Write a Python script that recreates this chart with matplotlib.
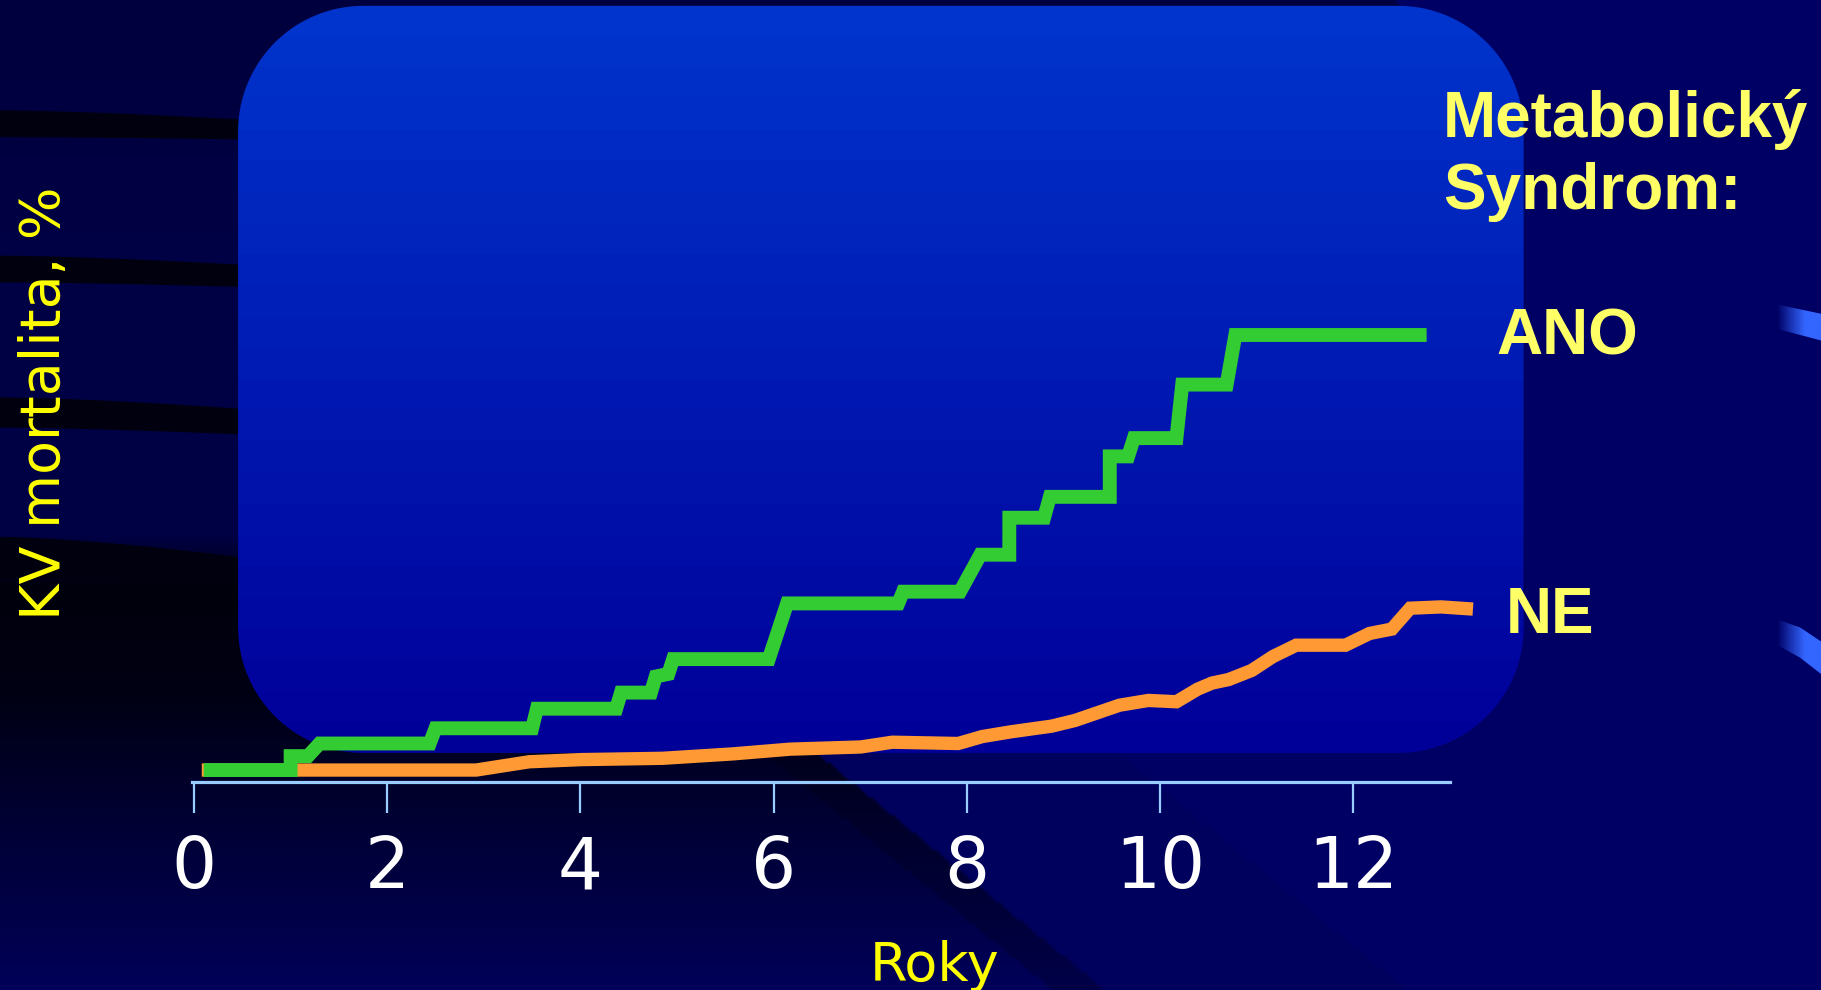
import numpy as np
import matplotlib
matplotlib.use("Agg")
import matplotlib.pyplot as plt
from matplotlib.patches import Polygon
from matplotlib.colors import to_rgb

# --- data (years, CV mortality %) ---
ano_years = [0.10, 1.00, 1.00, 1.18, 1.30, 2.44, 2.50, 3.50, 3.55, 4.37, 4.42, 4.73, 4.78,
             4.91, 4.96, 5.95, 6.14, 7.29, 7.34, 7.93, 8.14, 8.44, 8.44, 8.80, 8.86, 9.48,
             9.48, 9.67, 9.73, 10.17, 10.23, 10.69, 10.78, 12.76]
ano_vals = [0.00, 0.00, 0.32, 0.32, 0.61, 0.61, 0.96, 0.96, 1.41, 1.41, 1.78, 1.78, 2.15,
            2.21, 2.55, 2.55, 3.83, 3.83, 4.10, 4.10, 4.95, 4.95, 5.80, 5.80, 6.28, 6.28,
            7.21, 7.21, 7.63, 7.63, 8.86, 8.86, 10.00, 10.00]

ne_years = [0.08, 2.92, 3.47, 4.01, 4.85, 5.57, 6.17, 6.90, 7.23, 7.91, 8.16, 8.46, 8.88,
            9.12, 9.58, 9.88, 10.17, 10.39, 10.54, 10.71, 10.95, 11.17, 11.41, 11.92, 12.17,
            12.40, 12.59, 12.91, 13.24]
ne_vals = [0.00, 0.00, 0.19, 0.24, 0.27, 0.37, 0.48, 0.53, 0.64, 0.61, 0.77, 0.88, 1.01,
           1.14, 1.49, 1.60, 1.57, 1.86, 2.00, 2.08, 2.29, 2.61, 2.87, 2.87, 3.14,
           3.24, 3.72, 3.75, 3.70]

ticks = [0, 2, 4, 6, 8, 10, 12]
tick_labels = ["0", "2", "4", "6", "8", "10", "12"]

W, H = 1568, 852  # layout grid for the slide decoration

fig = plt.figure(figsize=(18.21, 9.90), dpi=100)

# background layer
bg = fig.add_axes([0, 0, 1, 1])
bg.set_xlim(0, W)
bg.set_ylim(H, 0)
bg.axis("off")

xs = np.linspace(0, W, 600)
ys = np.linspace(0, H, 340)
X, Y = np.meshgrid(xs, ys)
base = np.array(to_rgb("#000064"))
edge = np.interp(Y, [0, 113, 530, 648, 852], [1204, 1312, 1312, 702, 950])
inside = X < edge
f_in = np.interp(Y, [0, 200, 460, 505, 600, 700, 790, 852],
                 [0.62, 0.68, 0.7, 0.12, 0.2, 0.5, 0.72, 0.9])
near = inside & (Y > 640) & (X > edge - 45)
f_in = np.where(near, f_in * 0.8, f_in)
fac = np.where(inside, f_in, np.where((Y > 640) & (X < edge + 260), 0.93, 1.0))
img = fac[..., None] * base[None, None, :]
bg.imshow(img, extent=(0, W, H, 0), aspect="auto", interpolation="bilinear", zorder=0)

# dark streaks on the left
streaks = [((95, 118), (103, 120)), ((220, 243), (228, 247)),
           ((342, 368), (352, 374)), ((462, 497), (480, 503))]
for (t0, b0), (t1, b1) in streaks:
    sx = np.linspace(0, 210, 20)
    top = t0 + (t1 - t0) * (sx / 210) ** 1.5
    bot = b0 + (b1 - b0) * (sx / 210) ** 1.5
    pts = np.column_stack([np.r_[sx, sx[::-1]], np.r_[top, bot[::-1]]])
    bg.add_patch(Polygon(pts, closed=True, facecolor="#00000e", edgecolor="none", zorder=1))

# blue swooshes at right edge
grad = np.linspace(0, 1, 64)[None, :, None]
c0 = np.array(to_rgb("#000064"))
c1 = np.array(to_rgb("#3366ff"))
sw_img = c0 + (c1 - c0) * np.clip(grad * 1.6, 0, 1)
for poly in [[(1530, 262), (1568, 270), (1568, 293), (1530, 283)],
             [(1530, 533), (1550, 540), (1568, 552), (1568, 580), (1550, 566), (1530, 555)]]:
    p = Polygon(poly, closed=True, facecolor="none", edgecolor="none")
    bg.add_patch(p)
    im = bg.imshow(sw_img, extent=(1530, 1568, 600, 250), aspect="auto", zorder=2)
    im.set_clip_path(p)

# rounded gradient panel (circular corners)
x0, x1, y0, y1, r = 205, 1312, 5, 648, 108
pts = []
for cx, cy, a0 in [(x1 - r, y0 + r, -90), (x1 - r, y1 - r, 0),
                   (x0 + r, y1 - r, 90), (x0 + r, y0 + r, 180)]:
    a = np.radians(np.linspace(a0, a0 + 90, 30))
    pts.extend(zip(cx + r * np.cos(a), cy + r * np.sin(a)))
panel = Polygon(pts, closed=True, facecolor="none", edgecolor="none", zorder=3)
bg.add_patch(panel)
g = np.linspace(0, 1, 24)[:, None, None]
top_c = np.array(to_rgb("#0034cc"))
bot_c = np.array(to_rgb("#000099"))
panel_img = np.repeat(top_c + (bot_c - top_c) * g, 2, axis=1)
pim = bg.imshow(panel_img, extent=(x0, x1, y1, y0), aspect="auto",
                interpolation="nearest", zorder=3)
pim.set_clip_path(panel)

# data axes
ax = fig.add_axes([0.0535, 0.2104, 0.7957, 0.5391])
ax.patch.set_alpha(0)
ax.set_xlim(-1, 14)
ax.set_ylim(-0.268, 12)

ax.plot(ne_years, ne_vals, color="#ff9933", lw=9.6, solid_joinstyle="miter",
        solid_capstyle="butt", clip_on=False, zorder=3)
ax.plot(ano_years, ano_vals, color="#33cc33", lw=10, solid_joinstyle="miter",
        solid_capstyle="butt", clip_on=False, zorder=4)

for s in ["top", "right", "left"]:
    ax.spines[s].set_visible(False)
ax.spines["bottom"].set_color("#99ccff")
ax.spines["bottom"].set_linewidth(2.3)
ax.spines["bottom"].set_bounds(-0.025, 13.0)
ax.set_yticks([])
ax.set_xticks(ticks)
ax.set_xticklabels(tick_labels)
ax.tick_params(axis="x", direction="out", length=22, width=1.6, color="#99ccff",
               pad=16, labelsize=51, labelcolor="white")

fig.text(0.5134, 0.0091, "Roky", color="#ffff00", fontsize=39, ha="center", va="baseline")
fig.text(0.033, 0.593, "KV mortalita, %", color="#ffff00", fontsize=40, rotation=90,
         rotation_mode="anchor", ha="center", va="baseline")

bold = dict(color="#ffff66", fontsize=46, fontweight="bold", family="Liberation Sans",
            va="baseline", ha="left")
fig.text(0.7925, 1 - 137 / 990, "Metabolický", **bold)
fig.text(0.7925, 1 - 209 / 990, "Syndrom:", **bold)
fig.text(0.8215, 1 - 354 / 990, "ANO", **bold)
fig.text(0.827, 1 - 633 / 990, "NE", **bold)

fig.savefig("out.png", dpi=100, facecolor="#000064")
